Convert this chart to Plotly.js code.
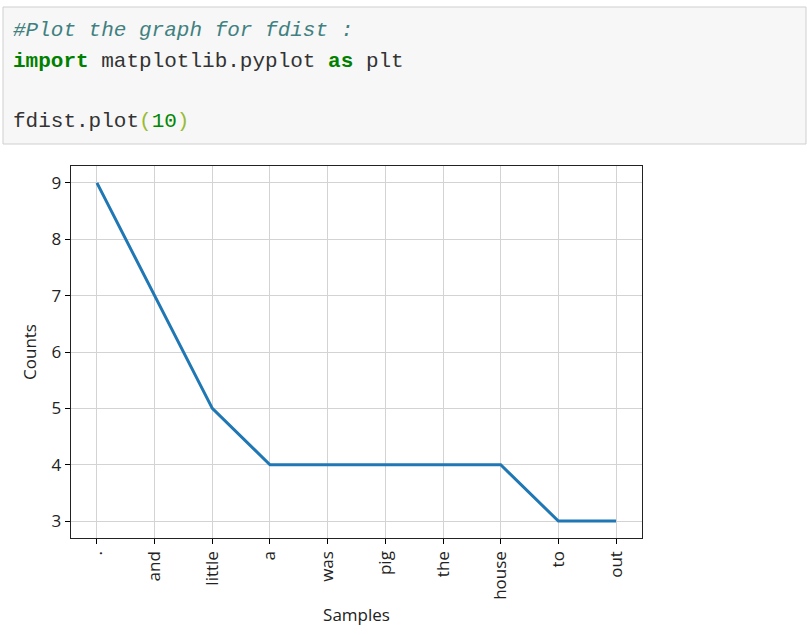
<!DOCTYPE html>
<html>
<head>
<meta charset="utf-8">
<script src="https://cdn.plot.ly/plotly-3.0.1.min.js"></script>
<style>
  html, body { margin: 0; padding: 0; background: #ffffff; }
  #chart { width: 807px; height: 635px; }
</style>
</head>
<body>
<div id="chart"></div>
<script>
// Data
const samples = [".", "and", "little", "a", "was", "pig", "the", "house", "to", "out"];
const counts  = [9, 7, 5, 4, 4, 4, 4, 4, 3, 3];
const yTicks  = [3, 4, 5, 6, 7, 8, 9];

// Code cell text
const codeComment = "#Plot the graph for fdist :";
const codeImport  = "import";
const codeModule  = " matplotlib.pyplot ";
const codeAs      = "as";
const codeAlias   = " plt";
const codeCall    = "fdist.plot";
const codeArg     = "10";

const W = 807, H = 635;
const L = 71, R = 642, T = 166, B = 538;
const pw = R - L, ph = B - T;
const px = x => (x - L) / pw;
const py = y => (B - y) / ph;

const mono = "Liberation Mono, DejaVu Sans Mono, monospace";
const axisFont = "Open Sans, Noto Sans, sans-serif";

const trace = {
  x: samples.map((s, i) => i),
  y: counts,
  type: "scatter",
  mode: "lines",
  line: { color: "#1f77b4", width: 3 },
  hoverinfo: "x+y"
};

const layout = {
  width: W, height: H,
  margin: { l: L, r: W - R, t: T, b: H - B, pad: 0 },
  paper_bgcolor: "#ffffff",
  plot_bgcolor: "#ffffff",
  showlegend: false,
  xaxis: {
    range: [-0.45, 9.45],
    tickmode: "array",
    tickvals: samples.map((s, i) => i),
    ticktext: samples,
    tickangle: -90,
    ticks: "outside", ticklen: 5, tickwidth: 1, tickcolor: "#000",
    showgrid: true, gridcolor: "#d3d3d3", gridwidth: 1,
    zeroline: false,
    showline: true, mirror: true, linecolor: "#222", linewidth: 1.3,
    tickfont: { family: axisFont, size: 17, color: "#222" },
    title: { text: "Samples", font: { family: axisFont, size: 17, color: "#222" }, standoff: 10 }
  },
  yaxis: {
    range: [2.7, 9.3],
    tickmode: "array",
    tickvals: yTicks,
    ticktext: yTicks.map(String),
    ticks: "outside", ticklen: 5, tickwidth: 1, tickcolor: "#000",
    showgrid: true, gridcolor: "#d3d3d3", gridwidth: 1,
    zeroline: false,
    showline: true, mirror: true, linecolor: "#222", linewidth: 1.3,
    tickfont: { family: axisFont, size: 17, color: "#222" },
    title: { text: "Counts", font: { family: axisFont, size: 17, color: "#222" }, standoff: 10 }
  },
  shapes: [
    {
      type: "rect", xref: "paper", yref: "paper", layer: "below",
      x0: px(3), x1: px(806), y0: py(144), y1: py(7),
      fillcolor: "#f7f7f7",
      line: { color: "#cfcfcf", width: 1 }
    }
  ],
  annotations: [
    {
      xref: "paper", yref: "paper", x: px(11), y: py(30),
      xanchor: "left", yanchor: "middle", showarrow: false,
      text: "<i>" + codeComment + "</i>",
      font: { family: mono, size: 21, color: "#408080" }
    },
    {
      xref: "paper", yref: "paper", x: px(11), y: py(61),
      xanchor: "left", yanchor: "middle", showarrow: false,
      text: "<b><span style='color:#008000'>" + codeImport + "</span></b>" + codeModule +
            "<b><span style='color:#008000'>" + codeAs + "</span></b>" + codeAlias,
      font: { family: mono, size: 21, color: "#333333" }
    },
    {
      xref: "paper", yref: "paper", x: px(11), y: py(121),
      xanchor: "left", yanchor: "middle", showarrow: false,
      text: codeCall + "<span style='color:#99bb33'>(</span><span style='color:#008800'>" + codeArg +
            "</span><span style='color:#99bb33'>)</span>",
      font: { family: mono, size: 21, color: "#333333" }
    }
  ]
};

Plotly.newPlot("chart", [trace], layout, { displayModeBar: false, staticPlot: true });
</script>
</body>
</html>
